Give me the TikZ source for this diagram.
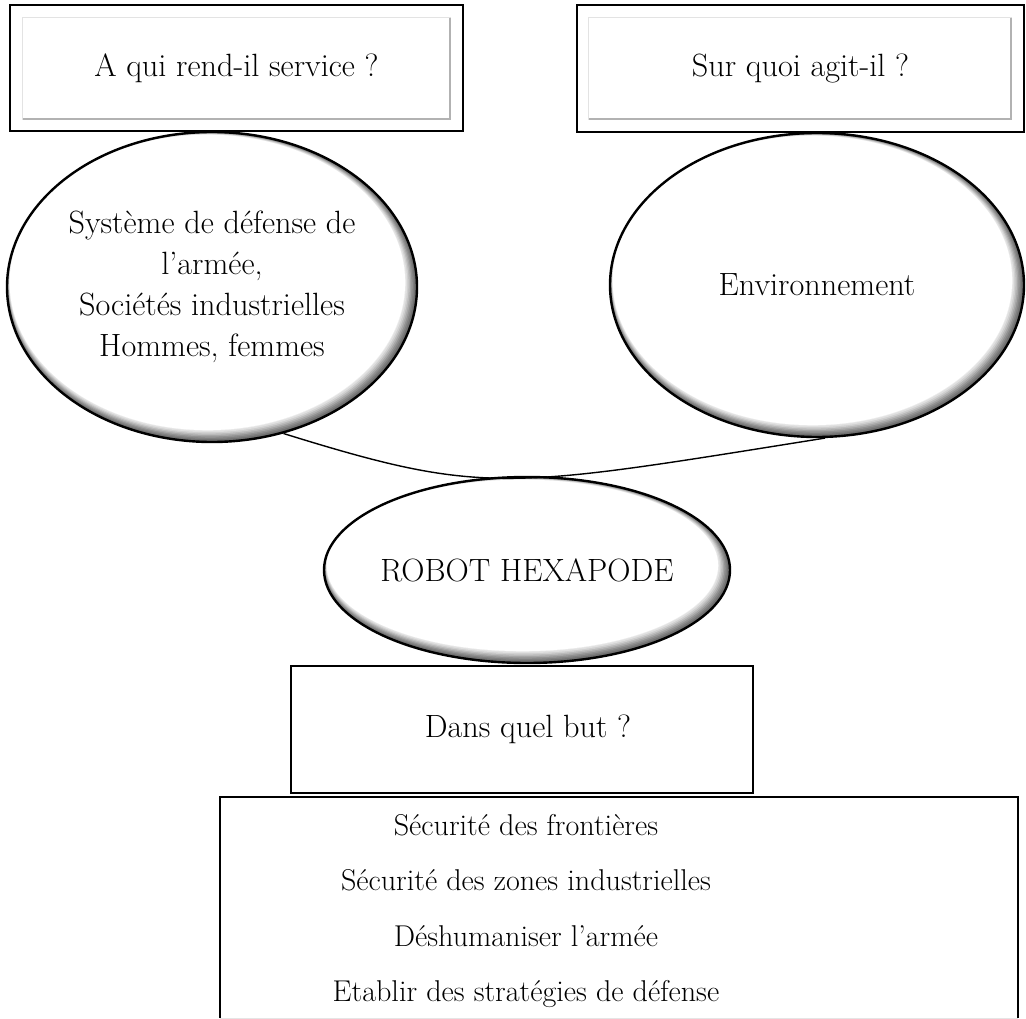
\documentclass[tikz,border=0pt]{standalone}
\usepackage{fontspec}
\usetikzlibrary{shapes.geometric,calc}
\newcommand{\shadebubble}[4]{%
  \foreach \k/\c in {0/60,1/56,2/50,3/43,4/35,5/27,6/19,7/12,8/7}{
    \fill[black!\c] ($(#1,#2)+(-0.55*\k pt,0.55*\k pt)$) ellipse [x radius=#3pt-0.85*\k pt, y radius=#4pt-0.85*\k pt];
  }
  \fill[white] ($(#1,#2)+(-4.6pt,4.6pt)$) ellipse [x radius=#3pt-7.3pt, y radius=#4pt-7.3pt];
}
\tikzset{
  big/.style={font=\fontsize{32.2}{41}\selectfont},
  listfont/.style={font=\fontsize{30.1}{55.5}\selectfont},
  outerbox/.style={draw=black, line width=2.5pt, inner sep=0pt, big},
  innerbox/.style={draw=gray!22, line width=1pt},
  innershadow/.style={draw=gray!60, line width=1.6pt},
  plainbox/.style={draw=black, line width=2pt, inner sep=0pt, big},
  bubble/.style 2 args={ellipse, draw=black, line width=2.4pt, inner xsep=-40pt, inner ysep=-30pt,
    minimum width=2*#1pt, minimum height=2*#2pt, align=center, big},
  link/.style={draw=black, line width=1.4pt}
}
\begin{document}
\begin{tikzpicture}[x=1pt,y=-1pt]
\useasboundingbox (0,0) rectangle (1026,1019);

% top boxes
\node[outerbox, minimum width=453pt, minimum height=126pt] (qa) at (236.5,68) {A qui rend-il service ?};
\draw[innerbox] ($(qa.north west)+(14pt,-14pt)$) rectangle ($(qa.south east)+(-14pt,13pt)$);
\draw[innershadow] ($(qa.north east)+(-14pt,-14pt)$) -- ($(qa.south east)+(-14pt,13pt)$) -- ($(qa.south west)+(14pt,13pt)$);

\node[outerbox, minimum width=447pt, minimum height=127pt] (qb) at (800.5,68.5) {Sur quoi agit-il ?};
\draw[innerbox] ($(qb.north west)+(13pt,-14pt)$) rectangle ($(qb.south east)+(-14pt,14pt)$);
\draw[innershadow] ($(qb.north east)+(-14pt,-14pt)$) -- ($(qb.south east)+(-14pt,14pt)$) -- ($(qb.south west)+(13pt,14pt)$);

% ellipses (shading first, then outlined nodes)
\shadebubble{212}{287}{205}{155}
\shadebubble{817}{285}{207}{152}
\shadebubble{527}{570}{203}{93}
\node[bubble={205}{155}] (L) at (212,287) {Système de défense de\\l’armée,\\Sociétés industrielles\\Hommes, femmes};
\node[bubble={207}{152}] (R) at (817,285) {Environnement};
\node[bubble={203}{93}] (H) at (527,570) {ROBOT HEXAPODE};

% connector
\draw[link] (L.-64) .. controls (485,496) and (506,489) .. (R.-87);

% purpose box
\node[plainbox, minimum width=462pt, minimum height=127pt] (but) at (522,729.5) {\hspace*{12pt}Dans quel but ?};

% goals box (open at the bottom)
\node[inner sep=0pt, minimum width=798pt, minimum height=221pt] (goals) at (619,907.5) {};
\draw[line width=2pt] (goals.south west) -- (goals.north west) -- (goals.north east) -- (goals.south east);
\draw[gray!20, line width=1pt] (goals.south west) -- (goals.south east);
\node[listfont, align=center, inner sep=0pt] (goalstext) at (526,911) {Sécurité des frontières\\Sécurité des zones industrielles\\Déshumaniser l’armée\\Etablir des stratégies de défense};
\end{tikzpicture}
\end{document}
